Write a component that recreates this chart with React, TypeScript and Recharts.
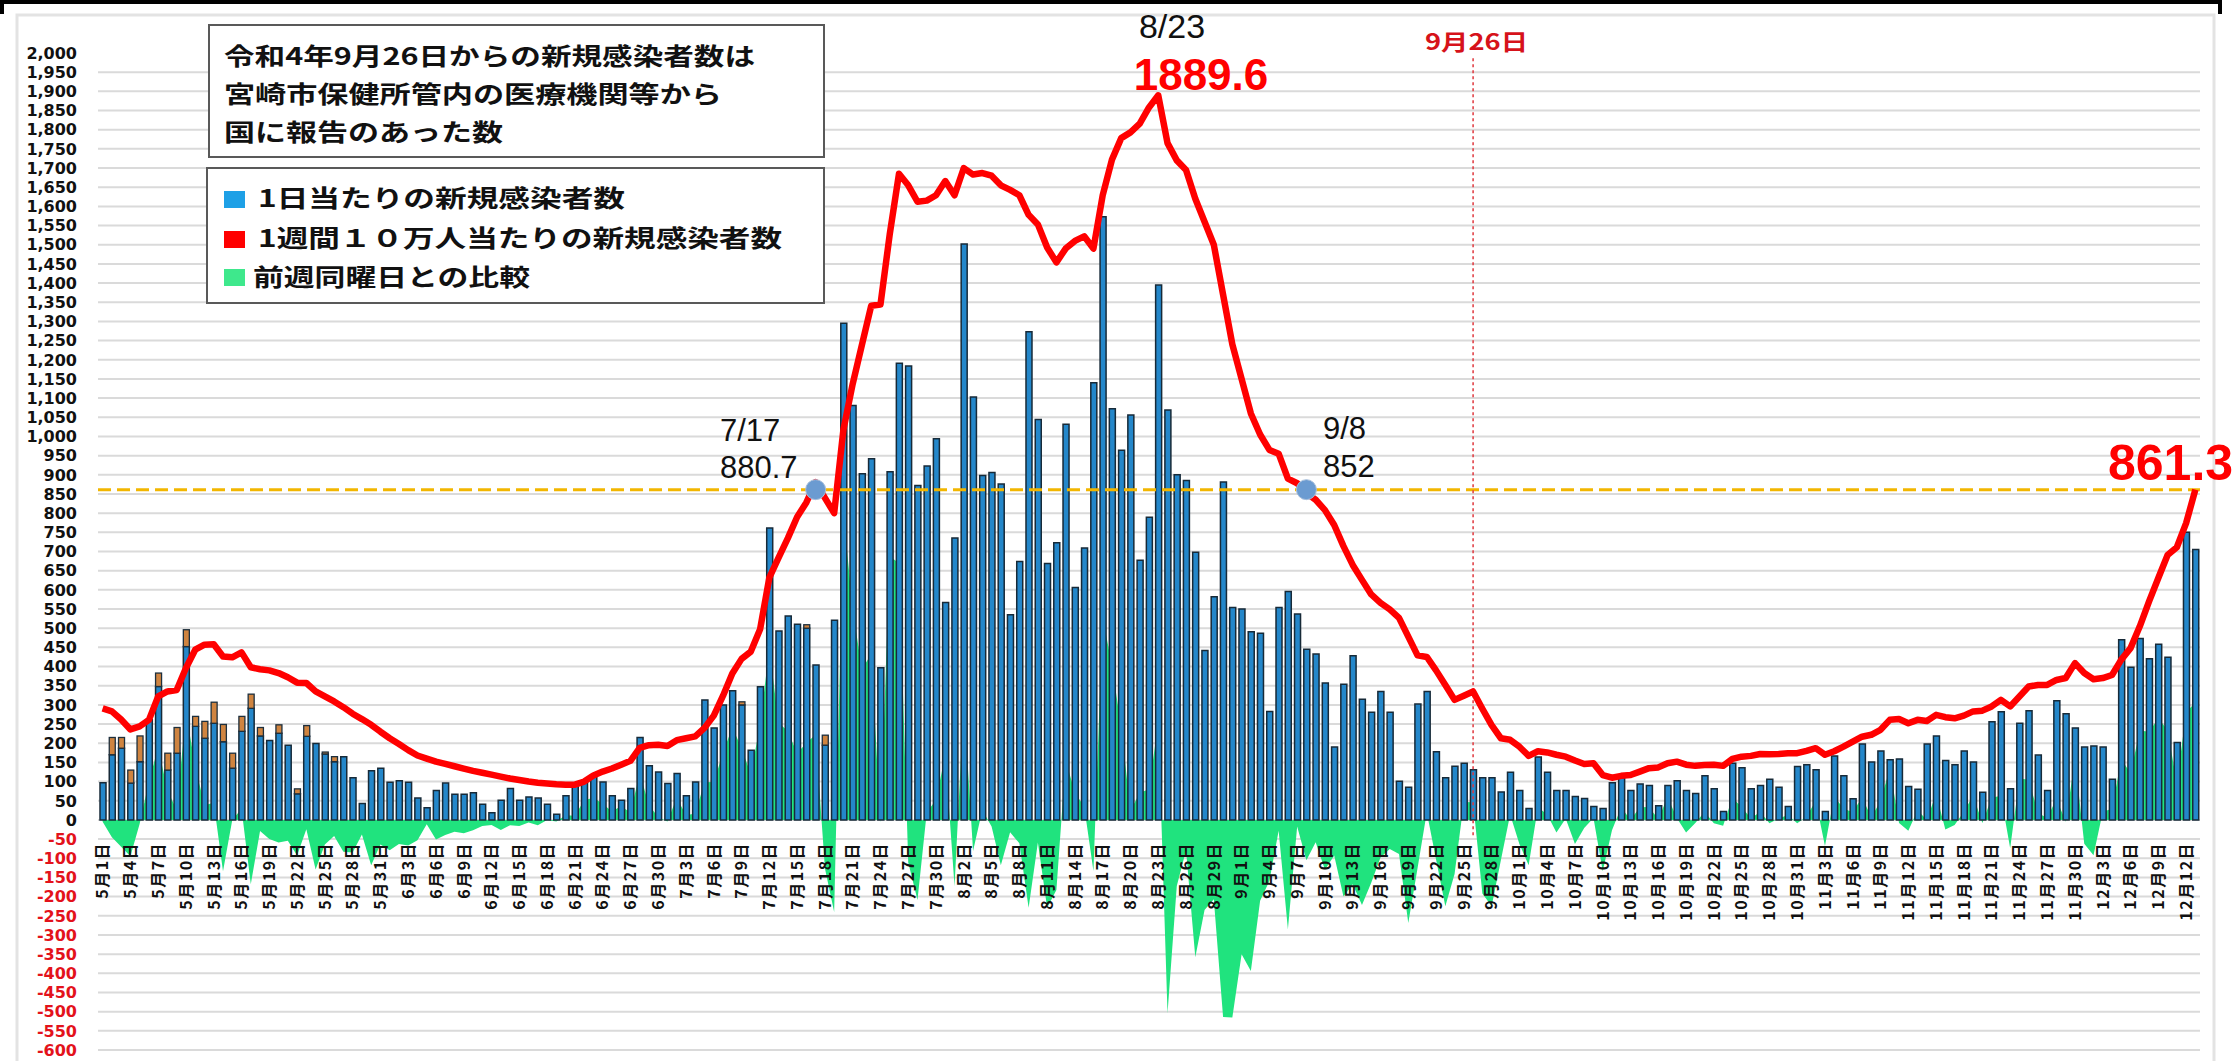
import React from 'react';
import {
  ComposedChart, Bar, Line, Area, XAxis, YAxis, CartesianGrid, ReferenceLine, ReferenceDot,
} from 'recharts';

// months shown and how many days of each are in the chart (5/1 .. 12/13)
const months = [5, 6, 7, 8, 9, 10, 11, 12];
const monthLengths = [31, 30, 31, 31, 30, 31, 30, 13];

// 1日当たりの新規感染者数 (blue part)
const dailyCases = [
  // May
  97, 170, 187, 96, 152, 262, 348, 130, 174, 452, 244, 213, 252, 204, 135, 231, 291, 219, 207, 226,
  195, 68, 218, 199, 172, 152, 165, 110, 43, 128, 135,
  // June
  98, 102, 98, 57, 32, 77, 96, 67, 67, 71, 41, 19, 51, 82, 51, 60, 57, 41, 15, 63,
  93, 102, 118, 99, 63, 51, 82, 215, 141, 125,
  // July
  95, 121, 63, 99, 313, 240, 300, 337, 300, 182, 347, 761, 493, 532, 510, 500, 404, 195, 521, 1295,
  1081, 903, 942, 397, 908, 1191, 1184, 872, 923, 994, 567,
  // August
  735, 1502, 1103, 898, 906, 876, 535, 674, 1273, 1044, 669, 723, 1032, 606, 709, 1140, 1573, 1072, 964, 1056,
  677, 789, 1395, 1069, 900, 885, 698, 442, 582, 881, 554,
  // September
  550, 491, 487, 283, 554, 596, 537, 445, 433, 357, 190, 354, 428, 315, 281, 335, 281, 101, 85, 302,
  335, 178, 110, 140, 148, 131, 110, 110, 73, 124,
  // October
  77, 30, 164, 124, 77, 77, 61, 56, 35, 30, 97, 110, 77, 94, 90, 37, 90, 102, 77, 69,
  115, 81, 22, 148, 136, 81, 90, 106, 85, 35, 139,
  // November
  144, 131, 22, 167, 115, 55, 198, 151, 180, 157, 159, 87, 80, 198, 219, 155, 144, 180, 151, 72,
  256, 282, 81, 252, 285, 169, 77, 311, 277, 240,
  // December
  190, 193, 190, 106, 470, 398, 473, 420, 458, 424, 202, 750, 705,
];

// orange top part of some bars
const lateMay = [
  0, 45, 28, 34, 67, 0, 35, 44, 67, 44, 26, 44, 55, 45, 39, 39, 37, 22, 0, 22,
  0, 13, 28, 0, 5, 13, 0, 0, 0, 0, 0,
];
const lateJuly = [
  0, 0, 0, 0, 0, 0, 0, 0, 8, 0, 0, 0, 0, 0, 0, 9, 0, 26, 0, 0,
  0, 0, 0, 0, 0, 0, 0, 0, 0, 0, 0,
];

// 1週間10万人当たりの新規感染者数 (red line)
const weeklyRate = [
  // May
  291, 283, 262, 236, 244, 261, 322, 335, 339, 396, 444, 457, 458, 426, 424, 437, 398, 393, 390, 383,
  372, 358, 357, 335, 322, 309, 294, 277, 263, 248, 230,
  // June
  213, 198, 182, 168, 160, 152, 146, 140, 134, 128, 123, 118, 113, 108, 104, 100, 97, 95, 93, 92,
  92, 100, 116, 126, 134, 144, 154, 188, 195, 196,
  // July
  193, 208, 213, 218, 240, 272, 324, 382, 420, 439, 497, 632, 684, 735, 790, 828, 880.7, 840, 800, 1018,
  1137, 1239, 1341, 1344, 1527, 1685, 1655, 1612, 1615, 1629, 1666,
  // August
  1629, 1700, 1683, 1687, 1680, 1655, 1643, 1629, 1578, 1553, 1493, 1454, 1490, 1510, 1522, 1490, 1629, 1722, 1778, 1793,
  1816, 1858, 1889.6, 1765, 1720, 1695, 1620, 1560, 1500, 1370, 1240,
  // September
  1150, 1060, 1005, 965, 955, 890, 878, 852, 835, 808, 769, 714, 665, 626, 588, 566, 549, 527, 478, 429,
  425, 390, 352, 313, 324, 335, 290, 247, 213, 209,
  // October
  191, 167, 179, 176, 170, 165, 155, 146, 148, 117, 110, 115, 117, 126, 135, 137, 148, 152, 144, 141,
  143, 144, 141, 159, 165, 167, 172, 171, 172, 174, 174,
  // November
  180, 187, 170, 179, 191, 204, 217, 222, 235, 261, 263, 252, 261, 258, 274, 268, 265, 272, 283, 285,
  296, 313, 296, 322, 348, 352, 352, 365, 370, 409,
  // December
  383, 367, 370, 378, 418, 448, 505, 570, 631, 691, 711, 774, 861.3,
];

// 前週同曜日との比較 (green area)
const weekOnWeek = [
  // May
  -5, -45, -70, -95, -10, 100, 190, 77, 26, 281, 140, 38, 45, -134, 0, 29, -168, -29, -50, -59,
  -54, -93, -24, -129, -64, -42, -83, -85, -38, -118, -64,
  // June
  -79, -63, -67, -53, -11, -51, -39, -31, -35, -27, -16, -13, -26, -14, -16, -7, -14, 0, -4, 12,
  11, 51, 58, 42, 22, 36, 19, 122, 39, 7,
  // July
  -4, 58, 12, 17, 98, 99, 175, 242, 187, 119, 248, 448, 253, 232, 173, 201, 222, -126, -240, 802,
  549, 393, 433, -7, 687, 670, -111, -209, 20, 52, 170,
  // August
  -173, 311, -81, 26, -17, -118, -32, -61, -229, -59, -229, -183, 156, 71, 35, -133, 529, 403, 241, 24,
  71, 80, 255, -504, -172, -79, -358, -235, -207, -514, -515,
  // September
  -350, -394, -211, -159, -28, -285, -17, -105, -58, -130, -93, -200, -168, -222, -164, -98, -76, -89, -269, -126,
  20, -103, -225, -141, 47, 46, -192, -225, -105, 14,
  // October
  -63, -118, 33, 14, -33, 4, -63, -21, 5, -134, -27, 33, 0, 33, 34, 2, 60, 5, -33, -8,
  21, -9, -15, 58, 34, 4, 21, -9, 4, 13, -9,
  // November
  8, 50, -68, 61, 30, 20, 59, 7, 49, 135, -8, -28, 25, 0, 68, -25, -13, 21, 64, -8,
  58, 63, -74, 108, 105, 18, 5, 55, -5, 159,
  // December
  -62, -92, 21, 29, 159, 121, 233, 230, 265, 234, 96, 280, 307,
];

const threshold = 861.3;
const yTicks = Array.from({ length: 53 }, (_, i) => -600 + i * 50);

const W = 2239;
const H = 1061;
const PLOT_TOP = 53;
const PLOT_BOTTOM = 1050;
const Y_MIN = -600;
const Y_MAX = 2000;
// pixel row of the zero line, where the date labels hang
const ZERO_Y = PLOT_TOP + (Y_MAX / (Y_MAX - Y_MIN)) * (PLOT_BOTTOM - PLOT_TOP);

const jp = '"Noto Sans CJK JP", "Noto Sans CJK SC", sans-serif';
const num = '"Liberation Sans", Arial, sans-serif';

const days: { m: number; d: number }[] = [];
months.forEach((m, mi) => {
  for (let d = 1; d <= monthLengths[mi]; d++) days.push({ m, d });
});

const data = days.map(({ m, d }, i) => ({
  date: `${m}/${d}`,
  daily: dailyCases[i],
  late: m === 5 ? lateMay[d - 1] : m === 7 ? lateJuly[d - 1] : 0,
  weekly: weeklyRate[i],
  wow: weekOnWeek[i],
}));

const YTick = (props: any) => {
  const { x, y, payload } = props;
  return (
    <text
      x={x}
      y={y}
      dy="0.36em"
      textAnchor="end"
      fontSize={16}
      fontWeight={700}
      fontFamily='"DejaVu Sans", sans-serif'
      fill={payload.value < 0 ? '#e3121b' : '#111'}
    >
      {payload.value.toLocaleString('en-US')}
    </text>
  );
};

const XTick = (props: any) => {
  const { x, payload } = props;
  const [m, d] = String(payload.value).split('/');
  return (
    <text
      transform={`translate(${x},${ZERO_Y + 22}) rotate(-90)`}
      dy="0.36em"
      textAnchor="end"
      fontSize={16}
      fontWeight={700}
      letterSpacing={1.5}
      fontFamily={jp}
      fill="#111"
    >
      {`${m}月${d}日`}
    </text>
  );
};

const LateShape = (props: any) => {
  const { x, y, width, height } = props;
  if (!height || height < 0.5) return <g />;
  return <rect x={x} y={y} width={width} height={height} fill="#cf8440" stroke="#1d2f3d" strokeWidth={1.3} />;
};

const Overlay = () => (
  <svg width={W} height={H} style={{ position: 'absolute', left: 0, top: 0, pointerEvents: 'none' }}>
    {/* outer frames */}
    <rect x={17} y={15} width={2197} height={1100} fill="none" stroke="#e3e3e3" strokeWidth={3} />
    <path d="M2 14 V2 H2220 V14" fill="none" stroke="#000" strokeWidth={4} />

    {/* note box */}
    <rect x={209} y={25} width={615} height={132} fill="#fff" stroke="#595959" strokeWidth={2} />
    <g fontFamily={jp} fontWeight={700} fontSize={24} fill="#111">
      <text x={224} y={65} textLength={531} lengthAdjust="spacingAndGlyphs">令和4年9月26日からの新規感染者数は</text>
      <text x={224} y={103} textLength={498} lengthAdjust="spacingAndGlyphs">宮崎市保健所管内の医療機関等から</text>
      <text x={224} y={141} textLength={279} lengthAdjust="spacingAndGlyphs">国に報告のあった数</text>
    </g>

    {/* legend box */}
    <rect x={207} y={168} width={617} height={135} fill="#fff" stroke="#595959" strokeWidth={2} />
    <rect x={224} y={191} width={21} height={17} fill="#1ea0e6" />
    <rect x={224} y={231} width={21} height={17} fill="#ff0000" />
    <rect x={224} y={269} width={21} height={17} fill="#3ee88c" />
    <g fontFamily={jp} fontWeight={700} fontSize={24} fill="#111">
      <text x={258} y={207} textLength={367} lengthAdjust="spacingAndGlyphs">1日当たりの新規感染者数</text>
      <text x={258} y={247} textLength={524} lengthAdjust="spacingAndGlyphs">1週間１０万人当たりの新規感染者数</text>
      <text x={253} y={286} textLength={277} lengthAdjust="spacingAndGlyphs">前週同曜日との比較</text>
    </g>

    {/* annotations */}
    <text x={1425} y={50} fontFamily={jp} fontWeight={700} fontSize={22} fill="#d6121a" textLength={103} lengthAdjust="spacingAndGlyphs">9月26日</text>
    <g fontFamily={num} fontSize={31} fill="#111">
      <text x={720} y={441}>7/17</text>
      <text x={720} y={478}>880.7</text>
      <text x={1323} y={439}>9/8</text>
      <text x={1323} y={477}>852</text>
    </g>
    <text x={1172} y={38} textAnchor="middle" fontFamily={num} fontSize={34} fill="#111">8/23</text>
    <text x={1201} y={90} textAnchor="middle" fontFamily={num} fontWeight={700} fontSize={44} fill="#ff0000">1889.6</text>
    <text x={2108} y={480} fontFamily={num} fontWeight={700} fontSize={50} fill="#ff0000">861.3</text>
  </svg>
);

export default function App() {
  return (
    <div style={{ position: 'absolute', left: 0, top: 0, width: W, height: H, background: '#fff' }}>
      <ComposedChart
        width={W}
        height={H}
        data={data}
        margin={{ top: PLOT_TOP, right: 39, bottom: H - PLOT_BOTTOM - 1, left: 0 }}
        barCategoryGap={0}
      >
        <CartesianGrid
          vertical={false}
          stroke="#dadada"
          strokeWidth={2}
          horizontalValues={yTicks.filter((t) => t < Y_MAX)}
        />
        <XAxis
          dataKey="date"
          height={1}
          interval={2}
          axisLine={false}
          tickLine={false}
          tick={<XTick />}
        />
        <YAxis
          width={98}
          domain={[Y_MIN, Y_MAX]}
          ticks={yTicks}
          interval={0}
          axisLine={false}
          tickLine={false}
          tickSize={0}
          tickMargin={21}
          tick={<YTick />}
          allowDataOverflow
        />
        <Area
          type="linear"
          dataKey="wow"
          fill="#20e37e"
          fillOpacity={1}
          stroke="none"
          baseValue={0}
          dot={false}
          activeDot={false}
          isAnimationActive={false}
        />
        <Bar dataKey="daily" stackId="a" barSize={6} fill="#2487ca" stroke="#172a38" strokeWidth={1.5} isAnimationActive={false} />
        <Bar dataKey="late" stackId="a" barSize={6} shape={<LateShape />} isAnimationActive={false} />
        <ReferenceLine y={threshold} stroke="#f2b600" strokeWidth={3} strokeDasharray="13 6" />
        <ReferenceLine
          segment={[{ x: '9/26', y: -40 }, { x: '9/26', y: 1990 }]}
          stroke="#e0383e"
          strokeWidth={1.5}
          strokeDasharray="3 3"
        />
        <Line
          type="linear"
          dataKey="weekly"
          stroke="#ff0000"
          strokeWidth={6.5}
          strokeLinejoin="round"
          dot={false}
          activeDot={false}
          isAnimationActive={false}
        />
        <ReferenceDot x="7/17" y={threshold} r={10} fill="#6b9bd1" stroke="#a9c0dc" strokeWidth={1} />
        <ReferenceDot x="9/8" y={threshold} r={10} fill="#6b9bd1" stroke="#a9c0dc" strokeWidth={1} />
      </ComposedChart>
      <Overlay />
    </div>
  );
}
